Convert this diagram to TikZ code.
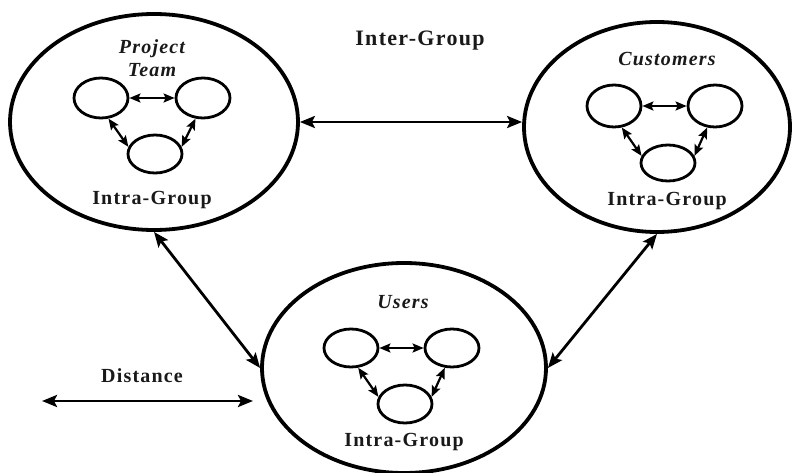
\documentclass[tikz,border=0pt]{standalone}
\usepackage{fontspec}
\setmainfont{Liberation Serif}[LetterSpace=6]
\usetikzlibrary{shapes.geometric,arrows.meta}

\tikzset{
  group/.style={ellipse, draw=black, line width=3.8pt, inner sep=0pt},
  member/.style={ellipse, draw=black, line width=2.8pt, inner sep=0pt,
                 minimum width=54pt, minimum height=40pt},
  bigtip/.tip={Stealth[length=15pt,width=12pt,inset=3pt]},
  smalltip/.tip={Stealth[length=11pt,width=9pt,inset=2pt]},
  link/.style={line width=2.8pt, bigtip-bigtip},
  tie/.style={line width=2.2pt, smalltip-smalltip},
  title/.style={font=\fontsize{20}{23}\selectfont\bfseries\itshape, text=black!90, align=center},
  caption/.style={font=\fontsize{20}{23}\selectfont\bfseries, text=black!90},
}

\begin{document}
\begin{tikzpicture}[x=1pt, y=-1pt]
\useasboundingbox (0,0) rectangle (803,473);

% the three groups
\node[group, minimum width=288pt, minimum height=216pt] (pt) at (154,122) {};
\node[group, minimum width=266pt, minimum height=210pt] (cu) at (657,127) {};
\node[group, minimum width=284pt, minimum height=210pt] (us) at (404,368) {};

% group names and labels
\node[title] (ptname) at (152,58) {Project\\[0pt]Team};
\node[title] (cuname) at (667,59) {Customers};
\node[title] (usname) at (403,302) {Users};
\node[caption] (ptintra) at (152,200) {Intra-Group};
\node[caption] (cuintra) at (667,201) {Intra-Group};
\node[caption] (usintra) at (404,442) {Intra-Group};
\node[caption, font=\fontsize{22}{25}\selectfont\bfseries] (inter) at (420,41) {Inter-Group};
\node[caption] (dist) at (142,376) {Distance};

% members inside Project Team
\node[member] (pta) at (101,98) {};
\node[member] (ptb) at (203,98) {};
\node[member, minimum height=38pt] (ptc) at (155,154) {};
% members inside Customers
\node[member, minimum height=42pt] (cua) at (614,106) {};
\node[member, minimum height=42pt] (cub) at (715,106) {};
\node[member, minimum height=36pt] (cuc) at (668,163) {};
% members inside Users
\node[member, minimum height=38pt] (usa) at (351,348) {};
\node[member, minimum height=38pt] (usb) at (452,348) {};
\node[member, minimum height=38pt] (usc) at (405,404) {};

% links between members
\foreach \g in {pt,cu,us} {
  \draw[tie] (\g a.east) -- (\g b.west);
  \draw[tie] (\g a.-70) -- (\g c.165);
  \draw[tie] (\g c.15) -- (\g b.-110);
}

% links between groups
\draw[link] (pt.east) -- (pt.east -| cu.west);
\draw[link] (pt.south) -- (us.west);
\draw[link] (cu.south) -- (us.east);

% distance scale
\coordinate (dl) at (42,401);
\coordinate (dr) at (253,401);
\draw[link] (dl) -- (dr);
\end{tikzpicture}
\end{document}
